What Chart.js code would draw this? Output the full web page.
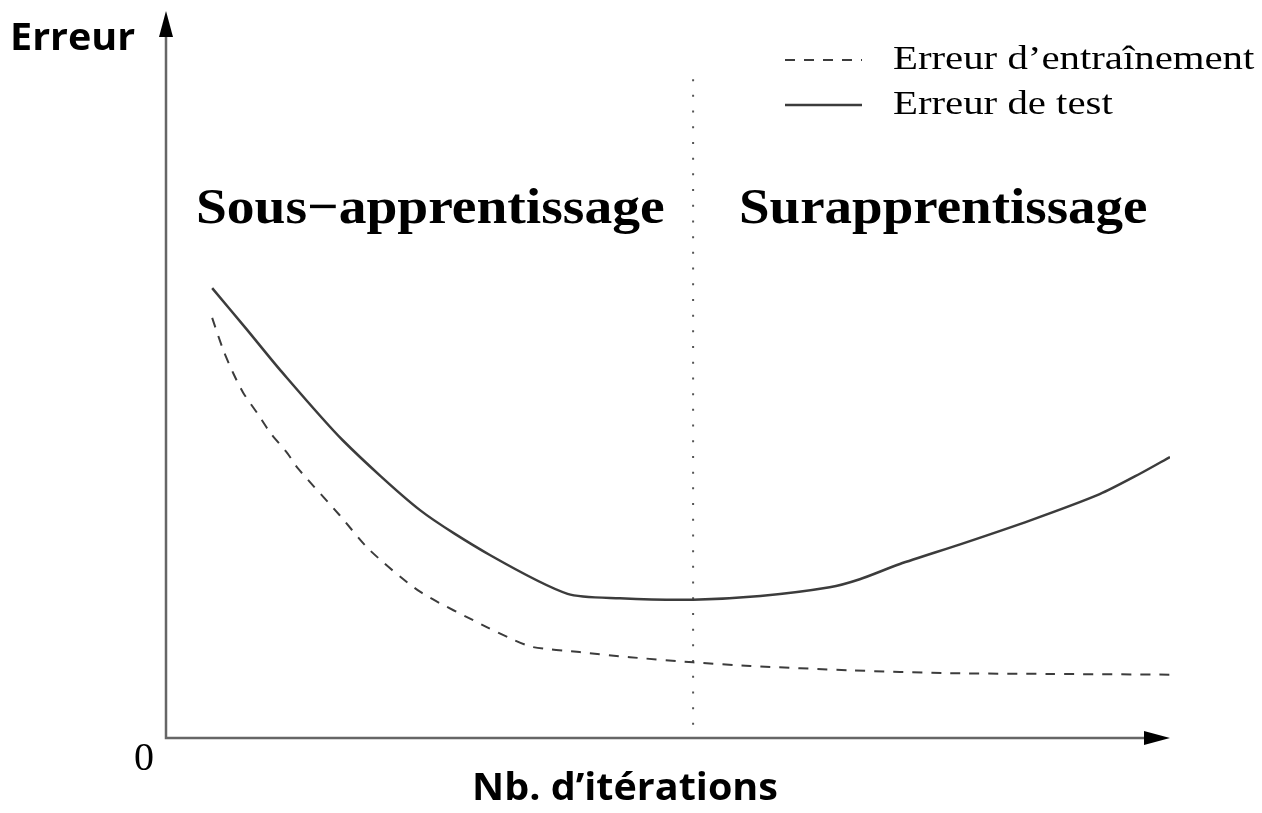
<!DOCTYPE html>
<html>
<head>
<meta charset="utf-8">
<title>Erreur vs itérations</title>
<script src="https://cdn.jsdelivr.net/npm/chart.js"></script>
<style>
  html, body { margin: 0; padding: 0; background: #fff; }
  #wrap { width: 1262px; height: 813px; position: relative; }
</style>
</head>
<body>
<div id="wrap"><canvas id="chart" width="1262" height="813"></canvas></div>
<script>
// iterations (x) and error levels (y), both on a 0..100 scale
const testIter  = [4.6, 8.0, 11.4, 17.6, 25.3, 32.3, 40.0, 45.2, 52.5, 59.2, 66.1, 69.1, 73.1, 79.1, 86.1, 93.0, 97.0, 100];
const testErr   = [61.8, 56.2, 50.5, 40.9, 31.3, 25.1, 19.8, 19.2, 19.0, 19.5, 20.7, 21.8, 23.9, 26.6, 29.9, 33.5, 36.3, 38.6];
const trainIter = [4.6, 5.7, 6.7, 7.7, 9.1, 10.4, 12.1, 13.1, 17.3, 20.3, 25.3, 32.0, 34.6, 36.5, 41.2, 46.2, 52.5, 58.2, 68.1, 78.1, 88.0, 100];
const trainErr  = [57.7, 53.3, 50.1, 47.4, 44.6, 41.9, 39.1, 37.1, 30.6, 25.8, 20.1, 15.2, 13.5, 12.5, 11.8, 11.1, 10.4, 9.9, 9.3, 8.9, 8.8, 8.7];
const boundaryIter = 52.5;
const boundaryTop = 90.5;

const seriesNames = ['Erreur d\u2019entraînement', 'Erreur de test'];
const regionNames = ['Sous\u2212apprentissage', 'Surapprentissage'];
const yTitle = 'Erreur';
const xTitle = 'Nb. d\u2019itérations';
const originTick = '0';

const pts = (xs, ys) => xs.map((x, i) => ({ x: x, y: ys[i] }));
const lineColor = '#3c3c3c';

// text drawn a little wider than the font's natural width
function wideText(ctx, text, x, y, sx, align) {
  ctx.save();
  ctx.translate(x, y);
  ctx.scale(sx, 1);
  ctx.textAlign = align;
  ctx.fillText(text, 0, 0);
  ctx.restore();
}

// axes with arrow heads, region names, legend and axis labels
const decorations = {
  id: 'decorations',
  afterDatasetsDraw(chart) {
    const { ctx, chartArea: a } = chart;
    ctx.save();
    // axes
    ctx.strokeStyle = '#666';
    ctx.lineWidth = 2.5;
    ctx.beginPath();
    ctx.moveTo(a.left, 30);
    ctx.lineTo(a.left, a.bottom);
    ctx.lineTo(a.right - 20, a.bottom);
    ctx.stroke();
    ctx.fillStyle = '#000';
    ctx.beginPath();
    ctx.moveTo(a.left, 11);
    ctx.lineTo(a.left - 7, 37);
    ctx.lineTo(a.left + 7, 37);
    ctx.closePath();
    ctx.fill();
    ctx.beginPath();
    ctx.moveTo(a.right, a.bottom);
    ctx.lineTo(a.right - 26, a.bottom - 7);
    ctx.lineTo(a.right - 26, a.bottom + 7);
    ctx.closePath();
    ctx.fill();

    // axis titles
    ctx.fillStyle = '#000';
    ctx.textBaseline = 'alphabetic';
    ctx.font = 'bold 38px "Open Sans"';
    wideText(ctx, yTitle, 10, 50, 1.04, 'left');
    ctx.font = 'bold 38px "Open Sans"';
    wideText(ctx, xTitle, 625, 800, 1.04, 'center');
    ctx.font = '40px "Liberation Serif"';
    wideText(ctx, originTick, 144, 770, 1, 'center');

    // region names either side of the boundary
    ctx.font = 'bold 50px "Liberation Serif"';
    wideText(ctx, regionNames[0], 196, 223, 1.11, 'left');
    wideText(ctx, regionNames[1], 739, 223, 1.10, 'left');

    // legend
    const ds = chart.data.datasets;
    const rows = [{ d: ds[0], y: 60 }, { d: ds[1], y: 105 }];
    ctx.font = '34px "Liberation Serif"';
    rows.forEach((r, i) => {
      ctx.strokeStyle = r.d.borderColor;
      ctx.lineWidth = r.d.borderWidth;
      ctx.setLineDash(r.d.borderDash || []);
      ctx.beginPath();
      ctx.moveTo(785, r.y);
      ctx.lineTo(862, r.y);
      ctx.stroke();
      ctx.setLineDash([]);
      ctx.fillStyle = '#000';
      ctx.textBaseline = 'middle';
      wideText(ctx, seriesNames[i], 893, r.y, 1.2, 'left');
    });
    ctx.restore();
  }
};

new Chart(document.getElementById('chart'), {
  type: 'line',
  data: {
    datasets: [
      {
        label: seriesNames[0],
        data: pts(trainIter, trainErr),
        borderColor: lineColor,
        borderWidth: 2,
        borderDash: [10, 9],
        pointRadius: 0,
        tension: 0.25
      },
      {
        label: seriesNames[1],
        data: pts(testIter, testErr),
        borderColor: lineColor,
        borderWidth: 2.5,
        pointRadius: 0,
        tension: 0.25
      },
      {
        label: 'frontière',
        data: [{ x: boundaryIter, y: boundaryTop }, { x: boundaryIter, y: 0 }],
        borderColor: '#555',
        borderWidth: 2,
        borderDash: [2, 13.7],
        pointRadius: 0
      }
    ]
  },
  options: {
    responsive: false,
    animation: false,
    layout: { padding: { left: 166, right: 92, top: 10, bottom: 75 } },
    plugins: { legend: { display: false }, tooltip: { enabled: false } },
    scales: {
      x: { type: 'linear', min: 0, max: 100, display: false },
      y: { type: 'linear', min: 0, max: 100, display: false }
    }
  },
  plugins: [decorations]
});
</script>
</body>
</html>
